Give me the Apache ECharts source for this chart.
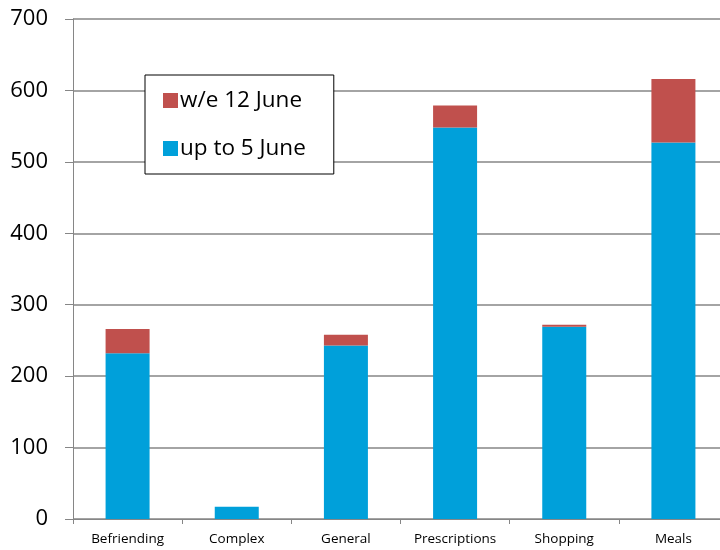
<!DOCTYPE html>
<html><head><meta charset="utf-8">
<script src="https://cdn.jsdelivr.net/npm/echarts@6/dist/echarts.min.js"></script>
<style>html,body{margin:0;padding:0;background:#fff;overflow:hidden}#c{width:730px;height:550px}</style>
</head><body><div id="c"></div>
<script>
var categories = ['Befriending','Complex','General','Prescriptions','Shopping','Meals'];
var upTo5June = [232, 17, 243, 548, 269, 527];
var we12June = [34, 0, 15, 31, 3, 89];
var yTicks = [0,100,200,300,400,500,600,700];

var chart = echarts.init(document.getElementById('c'));
chart.setOption({
  animation: false,
  textStyle: {fontFamily: '"Open Sans", sans-serif'},
  grid: {left: 73, right: 2, top: 19, bottom: 31, containLabel: false},
  legend: {
    orient: 'vertical', left: 145, top: 75,
    padding: [14, 28, 14, 18],
    itemGap: 25, itemWidth: 15, itemHeight: 15,
    backgroundColor: '#fff', borderColor: '#000', borderWidth: 1,
    textStyle: {fontSize: 22.5, color: '#000', padding: [0,0,0,-3]},
    icon: 'rect',
    data: ['w/e 12 June', 'up to 5 June']
  },
  xAxis: {
    type: 'category', data: categories,
    axisLine: {lineStyle: {color: '#868686', width: 1}},
    axisTick: {show: true, length: 5, alignWithLabel: false, lineStyle: {color: '#868686'}},
    axisLabel: {fontSize: 13.5, color: '#000', margin: 13}
  },
  yAxis: {
    type: 'value', min: 0, max: 700, interval: 100,
    axisLine: {show: true, lineStyle: {color: '#868686'}},
    axisTick: {show: true, length: 8, lineStyle: {color: '#868686'}},
    axisLabel: {fontSize: 22, color: '#000', margin: 25,
      formatter: function(v){ return yTicks.indexOf(v) >= 0 ? String(v) : ''; }},
    splitLine: {lineStyle: {color: '#868686', width: 1.5}}
  },
  series: [
    {name: 'up to 5 June', type: 'bar', stack: 's', data: upTo5June, barWidth: 44,
     itemStyle: {color: '#00a0da'}},
    {name: 'w/e 12 June', type: 'bar', stack: 's', data: we12June, barWidth: 44,
     itemStyle: {color: '#c0504d'}}
  ]
});
</script></body></html>
